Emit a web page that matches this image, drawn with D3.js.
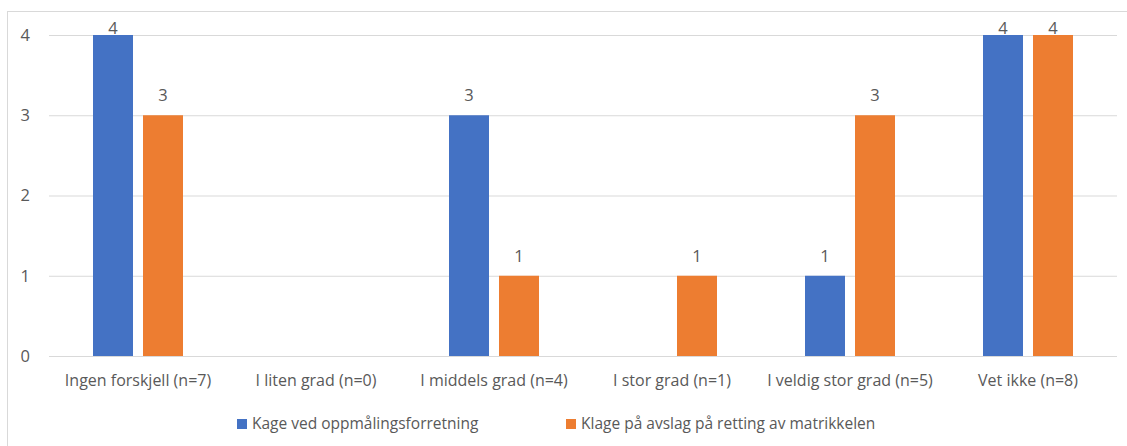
<!DOCTYPE html>
<html><head><meta charset="utf-8">
<script src="https://cdn.jsdelivr.net/npm/d3@7"></script>
<style>body{margin:0;background:#fff;} text{font-family:"Open Sans",sans-serif;fill:#595959;}</style>
</head><body>
<svg id="c" width="1127" height="446"></svg>
<script>
const categories = ["Ingen forskjell (n=7)","I liten grad (n=0)","I middels grad (n=4)","I stor grad (n=1)","I veldig stor grad (n=5)","Vet ikke (n=8)"];
const seriesNames = ["Kage ved oppmålingsforretning","Klage på avslag på retting av matrikkelen"];
const seriesA = [4, null, 3, null, 1, 4];
const seriesB = [3, null, 1, 1, 3, 4];
const yTicks = [0,1,2,3,4];
const colors = ["#4472C4","#ED7D31"];

const svg = d3.select("#c");
svg.append("rect").attr("x",7.5).attr("y",11.5).attr("width",1130).attr("height",450)
  .attr("fill","none").attr("stroke","#D9D9D9");

const pL=49, pR=1117, pT=35, pB=356;
const x0 = d3.scaleBand().domain(categories).range([pL,pR]);
const x1 = d3.scaleBand().domain([0,1]).range([44,134]).paddingInner(0.2);
const y = d3.scaleLinear().domain([0,4]).range([pB,pT]);

const gy = svg.append("g").attr("transform",`translate(${pL},0)`)
  .call(d3.axisLeft(y).tickValues(yTicks).tickSize(-(pR-pL)).tickFormat(d3.format("d")));
gy.select(".domain").remove();
gy.selectAll(".tick line").attr("stroke","#D9D9D9");
gy.selectAll(".tick text").attr("x",-19).attr("font-size","16.5px").attr("fill","#595959");

const gx = svg.append("g").attr("transform",`translate(0,${pB})`)
  .call(d3.axisBottom(x0).tickSize(0).tickPadding(19));
gx.select(".domain").remove();
gx.selectAll(".tick text").attr("font-size","16px").attr("fill","#595959");

const series=[seriesA,seriesB];
series.forEach((vals,si)=>{
  const data = categories.map((c,i)=>({c,v:vals[i]})).filter(d=>d.v!=null);
  svg.append("g").selectAll("rect").data(data).join("rect")
    .attr("x",d=>x0(d.c)+x1(si)).attr("width",x1.bandwidth())
    .attr("y",d=>y(d.v)).attr("height",d=>y(0)-y(d.v))
    .attr("fill",colors[si]);
  svg.append("g").selectAll("text").data(data).join("text")
    .attr("x",d=>x0(d.c)+x1(si)+x1.bandwidth()/2)
    .attr("y",d=>Math.max(y(d.v)-20,28))
    .attr("dy","0.35em").attr("text-anchor","middle").attr("font-size","16.5px")
    .text(d=>d.v);
});

const legX=[237,566];
seriesNames.forEach((n,i)=>{
  svg.append("rect").attr("x",legX[i]).attr("y",419).attr("width",10).attr("height",10).attr("fill",colors[i]);
  svg.append("text").attr("x",legX[i]+15).attr("y",424).attr("dy","0.35em").attr("font-size","15.5px").text(n);
});
</script>
</body></html>
